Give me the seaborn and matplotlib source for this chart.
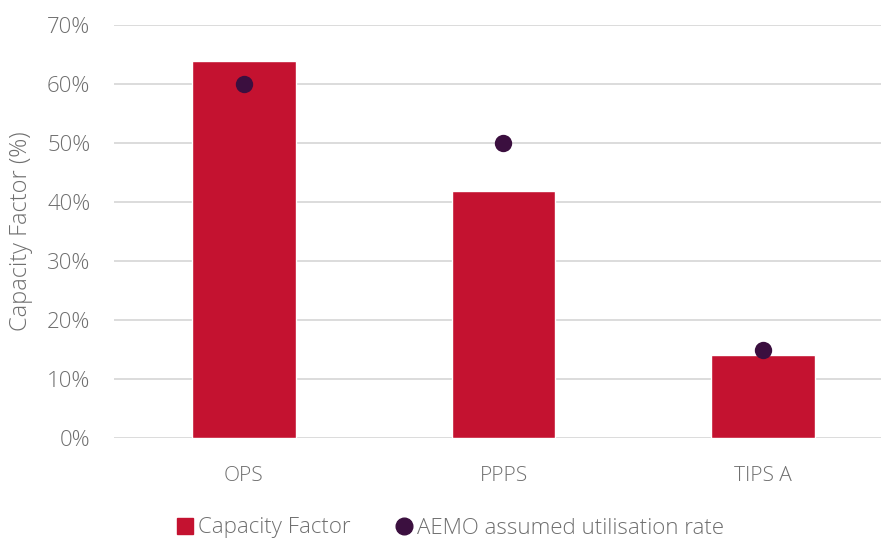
import matplotlib
matplotlib.use("Agg")
import matplotlib.pyplot as plt
import seaborn as sns
import pandas as pd
from matplotlib.lines import Line2D
from matplotlib.ticker import PercentFormatter

categories = ["OPS", "PPPS", "TIPS A"]
capacity_factor = [63.9, 41.9, 14.1]
aemo_rate = [60.0, 50.0, 15.0]
y_ticks = [0, 10, 20, 30, 40, 50, 60, 70]

RED = "#C41230"
DOT = "#3B0F3F"
GREY = "#6F6F6F"

df = pd.DataFrame({"cat": categories, "cf": capacity_factor, "aemo": aemo_rate})

sns.set_theme(style="white")
plt.rcParams["font.family"] = ["Open Sans", "DejaVu Sans"]
plt.rcParams["font.weight"] = "light"

fig = plt.figure(figsize=(8.81, 5.41), dpi=100)
ax = fig.add_axes([114/881, 103/541, (893-114)/881, 413/541])

sns.barplot(data=df, x="cat", y="cf", color=RED, width=0.4, saturation=1, ax=ax, zorder=2)
sns.stripplot(data=df, x="cat", y="aemo", color=DOT, size=12.5, jitter=False, ax=ax, zorder=3)

ax.set_ylim(0, 70)
ax.set_xlim(-0.5, 2.5)
ax.set_yticks(y_ticks)
ax.yaxis.set_major_formatter(PercentFormatter(decimals=0))
ax.grid(axis="y", color="#D9D9D9", linewidth=1.3, zorder=0)
ax.set_axisbelow(True)
for s in ax.spines.values():
    s.set_visible(False)
ax.tick_params(axis="both", length=0, labelcolor=GREY)
ax.tick_params(axis="y", pad=17, labelsize=16)
ax.tick_params(axis="x", pad=20, labelsize=15)
for lab in ax.get_xticklabels() + ax.get_yticklabels():
    lab.set_fontweight("light")
ax.set_xlabel("")
ax.set_ylabel("Capacity Factor (%)", fontsize=17, color=GREY, labelpad=10, fontweight="light")

handles = [
    Line2D([], [], marker="s", linestyle="", color=RED, markersize=11),
    Line2D([], [], marker="o", linestyle="", color=DOT, markersize=12),
]
fig.legend(handles, ["Capacity Factor", "AEMO assumed utilisation rate"],
           loc="center", bbox_to_anchor=(450/881, 1-528/541), ncol=2,
           frameon=False, prop={"size": 16, "weight": "light"}, labelcolor=GREY,
           handlelength=0.8, handletextpad=0.2, columnspacing=2.0)

fig.savefig("out.png", dpi=100)
